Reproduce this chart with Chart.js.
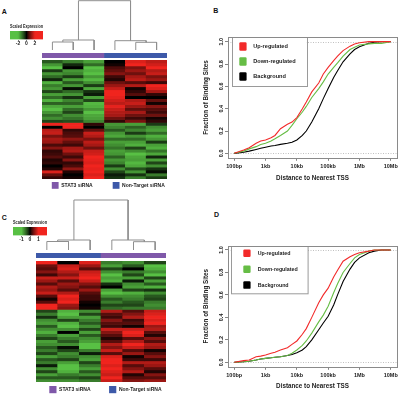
<!DOCTYPE html>
<html><head><meta charset="utf-8">
<script src="https://cdn.jsdelivr.net/npm/chart.js@4.4.1/dist/chart.umd.min.js"></script>
<style>
html,body{margin:0;padding:0;background:#fff;}
#wrap{position:relative;width:400px;height:397px;overflow:hidden;background:#fff;font-family:"Liberation Sans",Arial,sans-serif;}
canvas{position:absolute;}
.lbl{position:absolute;font-weight:bold;font-size:7px;line-height:7px;color:#111;}
</style></head><body>
<div id="wrap">
  <div class="lbl" style="left:1.7px;top:8.4px">A</div>
  <div class="lbl" style="left:213.3px;top:7.4px">B</div>
  <div class="lbl" style="left:1.7px;top:214.1px">C</div>
  <div class="lbl" style="left:214px;top:211.4px">D</div>
</div>
<script>
// ---------------- DATA ----------------
// Heatmap A (scaled expression, rows top->bottom), one array per sample column
const heatA_stat3_1 = [-0.8,-1.5,-2,-0.5,-1.5,-1,-0.3,-1.8,-1.2,-1.5,-0.6,-1.6,-1,-1.8,-0.9,-1.7,-2,-1.5,-1,-1.4,-0.6, 2,0,1.5,1.6,0.9,1.3,1.2,0.5,1.0,0.3,0.4,0.6,0.2,0.3,0,0.2,1.8,0.7,0.3];
const heatA_stat3_2 = [-1.2,-0.3,0,-1.5,-1.3,-0.5,-1.6,-0.8,-1.5,-0.1,-1,-1.5,-0.4,-1.3,-0.9,-1.6,-1,-0.6,-1.4,-1.1,-0.7, 2,2,0.3,0.5,0.6,1.1,0.7,0.4,1.3,1.4,0.8,0.4,1.0,0.3,0.5,1.1,0.2,0,0.1];
const heatA_stat3_3 = [-1.6,-1,-2,-1.8,-2,-1.5,-1.9,-1.4,-0.5,-1.7,-0.4,-0.2,-1.6,-0.6,-1.9,-1.8,-1.5,-2,-1.7,-1.6,-1.3, 0.3,0,0.7,1.6,1.4,0.9,1.5,1.3,0.8,1.6,1.7,2,1.9,1.8,2,1.9,2,1.8,2];
const heatA_ctrl_1  = [0,0.1,0.5,0.7,1,0.4,0.2,0.8,1.2,1.6,2,2,1.9,1.7,1.5,1.9,1.6,1.4,1.3,0.8,0.3, -1.5,-1.3,-0.8,-1.5,-1.7,-1,-1.6,-1.4,-1.1,-1.6,-1.5,-0.9,-1.5,-1.3,-0.5,-1.4,-0.6,-0.2,-0.4];
const heatA_ctrl_2  = [1.8,2,0.9,1.2,0.8,1.3,1.5,0.6,1.4,0.1,0.3,0.6,0,1.4,1.6,1.2,0.7,1.3,0.8,0.4,0.9, -1.6,-0.9,-1.3,-0.5,-1.5,-1,-1.6,-1.8,-0.6,-1.4,-2,-1.7,-1.6,-1.9,-1.7,-0.7,-1.5,-0.4,-1.2];
const heatA_ctrl_3  = [1.5,1.7,2,1.4,1.6,0.9,1.2,0.4,2,1.8,1.3,0.3,0,0.7,0.1,1,0.6,0.4,0.8,0.1,0.3, -0.5,-1.4,-1.6,-1,-1.8,-1.5,-0.5,-1.6,-1.8,-1.1,-1.7,-0.3,-1.6,-0.6,-1.4,-0.4,-0.1,-1.2,-0.5];
// Heatmap C
const heatC_col1 = [1,0.4,0.3,0.5,0.2,0.8,0.6,0.3,0.7,0.6,0.8,0.3,0.05,0.3,1,1, -0.3,-0.6,-0.2,-0.7,-0.8,-0.4,-0.7,-0.9,-0.6,-0.3,-0.8,-0.7,-0.4,-0.6,-0.3,-0.8,-0.4,-0.6,-0.1,-0.7,-0.3,-0.8,-0.4,-0.7];
const heatC_col2 = [0,0.8,0.9,0.7,0.5,0.8,0.3,0.6,0.5,0.3,0.7,1,0.9,1,0.6,0.5, -0.9,-1,-0.8,-0.3,-0.9,-1,-0.7,0,-0.8,-0.6,-0.4,-0.7,-0.05,-0.3,-0.7,-0.6,-0.3,-0.8,-1,-1,-0.9,-0.6,-0.4,-0.7];
const heatC_col3 = [0.9,0.6,0.3,0.8,0.9,1,0.8,0.5,0.3,0.6,0.3,0.2,0.2,0.05,0,0.05, -0.7,-0.3,-0.8,-0.6,-0.4,-0.7,-0.3,-0.8,-0.4,-0.7,-0.8,-1,-1,-0.6,-0.1,-0.7,-0.8,-0.3,-0.6,-0.8,-0.4,-0.7,-0.3,-0.6];
const heatC_col4 = [-0.6,-0.8,-0.3,-0.7,-1,-0.8,-0.9,-0.2,0,-0.8,-1,-0.7,-0.4,-0.6,-0.3,-0.5, 0.7,0.3,0.2,0.5,0.3,0.2,0.8,0.5,0.3,0.1,0.3,0.7,0.5,0.8,0.3,0.9,1,1,0.9,1,0.9,0.8,1,0.8];
const heatC_col5 = [-0.7,-0.4,0,-0.6,-0.3,-0.8,-0.1,-0.7,-0.8,-0.3,-0.9,-0.7,-0.6,-0.4,-0.3,-0.6, 0.3,0.5,0.7,0.2,0.3,0.05,0.8,1,0.9,0.3,0.7,1,0.8,0.3,0.6,0.05,0.2,0.7,0.3,0.5,0.7,0.1,0.3,0.5];
const heatC_col6 = [-0.3,-1,-0.9,-0.7,-1,-0.3,-0.8,-0.4,-0.9,-0.2,-0.7,-0.4,-0.3,-0.6,-0.7,-0.6, 0.8,0.9,1,0.9,1,0.6,0.7,0.3,0.1,0.5,0.3,0.7,0.6,0.05,0.3,0.5,0.2,0.7,0.6,0.3,0.1,0.5,0.3,0.6];

// Dendrograms (R hclust style merges: negative = leaf, positive = earlier merge; third = height)
const dendroA = [[-1,-2,8],[1,-3,10],[-5,-6,7.7],[-4,3,9.3],[2,4,49.3]];
const dendroC = [[-1,-2,8.5],[1,-3,10],[-5,-6,8.3],[-4,3,10],[2,4,50]];

// Sample group bars
const groupNames = ['STAT3 siRNA','Non-Target siRNA'];
const groupColors = ['#7f58a9','#3d59a9'];
const groupsA = ['STAT3 siRNA','Non-Target siRNA'];
const groupsC = ['Non-Target siRNA','STAT3 siRNA'];

// Color keys
const keyTicksA = [-2,0,2];
const keyTicksC = [-1,0,1];

// CDF curves: distance to nearest TSS (bp) and fraction of binding sites
const distances = [100,200,300,500,700,1000,1500,2000,3000,5000,7000,10000,15000,20000,30000,50000,70000,100000,150000,200000,300000,500000,700000,1000000,2000000,3000000,5000000,10000000];
const upB   = [0,0.03,0.05,0.09,0.11,0.12,0.14,0.16,0.22,0.26,0.28,0.32,0.40,0.46,0.55,0.63,0.71,0.77,0.83,0.87,0.92,0.96,0.98,0.99,1,1,1,1];
const downB = [0,0.02,0.04,0.06,0.08,0.09,0.11,0.13,0.16,0.20,0.25,0.31,0.37,0.42,0.50,0.58,0.64,0.71,0.77,0.81,0.87,0.93,0.95,0.97,0.98,0.985,0.985,1];
const bgB   = [0,0.01,0.02,0.035,0.045,0.055,0.065,0.07,0.08,0.09,0.10,0.12,0.16,0.20,0.28,0.40,0.49,0.58,0.68,0.74,0.82,0.89,0.93,0.955,0.985,0.995,1,1];
const upD   = [0,0.015,0.02,0.05,0.055,0.065,0.08,0.09,0.11,0.13,0.16,0.19,0.25,0.30,0.40,0.53,0.60,0.66,0.76,0.82,0.90,0.94,0.96,0.975,0.99,1,1,1];
const downD = [0,0.005,0.01,0.02,0.03,0.035,0.04,0.045,0.05,0.06,0.08,0.11,0.15,0.19,0.26,0.36,0.42,0.50,0.62,0.70,0.80,0.88,0.93,0.96,0.99,1,1,1];
const bgD   = [0,0.005,0.01,0.02,0.03,0.035,0.04,0.045,0.05,0.06,0.07,0.085,0.11,0.14,0.20,0.29,0.35,0.41,0.51,0.60,0.72,0.83,0.89,0.93,0.975,0.99,1,1];
const seriesLabels = ['Up-regulated','Down-regulated','Background'];
const seriesColors = ['#f22a2a','#66bd45','#000000'];
const xTickValues = [100,1000,10000,100000,1000000,10000000];
const xTickLabels = ['100bp','1kb','10kb','100kb','1Mb','10Mb'];
const yTickValues = [0,0.2,0.4,0.6,0.8,1.0];

// ---------------- SETUP ----------------
const FONT = '"Liberation Sans", Arial, sans-serif';
Chart.defaults.font.family = FONT;
Chart.defaults.font.weight = 'bold';
Chart.defaults.color = '#222';
const wrap = document.getElementById('wrap');
function mk(left, top, w, h){
  const c = document.createElement('canvas');
  c.width = w; c.height = h;
  c.style.left = left + 'px'; c.style.top = top + 'px';
  c.style.width = w + 'px'; c.style.height = h + 'px';
  wrap.appendChild(c); return c;
}
const base = {responsive:false, animation:false, devicePixelRatio:1, events:[],
  plugins:{legend:{display:false}, tooltip:{enabled:false}, title:{display:false}}};

function heatColor(v, sat){
  const t = Math.pow(Math.min(Math.abs(v)/sat, 1), 0.85);
  if (v < 0) return `rgb(${Math.round(88*t)},${Math.round(192*t)},${Math.round(68*t)})`;
  return `rgb(${Math.round(240*t)},${Math.round(36*t)},${Math.round(30*t)})`;
}

// group legend below heatmap
const groupLegendPlugin = {
  id:'groupLegend',
  afterDraw(chart, args, o){
    if (!o || !o.show) return;
    const {ctx, chartArea} = chart;
    ctx.save();
    ctx.font = `bold ${o.fontSize}px ${FONT}`;
    ctx.textBaseline = 'middle';
    let x = chartArea.left + o.offsetX;
    const y = chartArea.bottom + o.offsetY;
    groupNames.forEach((name, i) => {
      ctx.fillStyle = groupColors[i];
      ctx.fillRect(x, y, o.box, o.box);
      x += o.box + o.textGap;
      ctx.fillStyle = '#222';
      ctx.fillText(name, x, y + o.box/2 + 0.3);
      x += ctx.measureText(name).width + o.itemGap;
    });
    ctx.restore();
  }
};

function heatmap(canvas, columns, sat, padding, legendOpts){
  const nRows = columns[0].length;
  const datasets = [];
  for (let r = 0; r < nRows; r++){
    datasets.push({data: columns.map(() => 1),
      backgroundColor: columns.map(col => heatColor(col[r], sat)),
      borderWidth:0, barPercentage:1, categoryPercentage:1});
  }
  new Chart(canvas, {
    type:'bar',
    data:{labels: columns.map((c,i) => 'S' + (i+1)), datasets},
    options:Object.assign({}, base, {
      layout:{padding},
      scales:{x:{display:false, stacked:true}, y:{display:false, stacked:true, min:0, max:nRows, reverse:true}},
      plugins:Object.assign({}, base.plugins, {groupLegend: legendOpts})
    }),
    plugins:[groupLegendPlugin]
  });
}

function dendroSegments(merge){
  const pos = [], hts = [], segs = [];
  merge.forEach(([a,b,h], i) => {
    const xa = a < 0 ? -a-1 : pos[a-1], ha = a < 0 ? 0 : hts[a-1];
    const xb = b < 0 ? -b-1 : pos[b-1], hb = b < 0 ? 0 : hts[b-1];
    segs.push([{x:xa,y:ha},{x:xa,y:h},{x:xb,y:h},{x:xb,y:hb}]);
    pos[i] = (xa+xb)/2; hts[i] = h;
  });
  return segs;
}
function dendro(canvas, merge, ymax){
  new Chart(canvas, {
    type:'scatter',
    data:{datasets: dendroSegments(merge).map(s => ({data:s, showLine:true, pointRadius:0,
      borderColor:'#8f8f8f', borderWidth:1, clip:false, tension:0}))},
    options:Object.assign({}, base, {
      scales:{x:{type:'linear', display:false, min:-0.5, max:5.5}, y:{display:false, min:0, max:ymax}}
    })
  });
}
function groupBar(canvas, groups){
  new Chart(canvas, {
    type:'bar',
    data:{labels:groups, datasets:[{data: groups.map(() => 1),
      backgroundColor: groups.map(g => groupColors[groupNames.indexOf(g)]),
      borderWidth:0, barPercentage:1, categoryPercentage:1}]},
    options:Object.assign({}, base, {scales:{x:{display:false}, y:{display:false, min:0, max:1}}})
  });
}
function keyChart(canvas, min, max, ticks, sat, padL, padR){
  new Chart(canvas, {
    type:'bar',
    data:{labels:['key'], datasets:[{data:[[min,max]], borderWidth:0, barPercentage:1, categoryPercentage:1,
      backgroundColor:(c) => {
        const ch = c.chart; if (!ch.chartArea) return '#000';
        const xs = ch.scales.x;
        const g = ch.ctx.createLinearGradient(xs.getPixelForValue(min), 0, xs.getPixelForValue(max), 0);
        for (let k = 0; k <= 24; k++){ const v = min + (max-min)*k/24; g.addColorStop(k/24, heatColor(v, sat)); }
        return g;
      }}]},
    options:Object.assign({}, base, {
      indexAxis:'y',
      layout:{padding:{left:padL, right:padR, top:0, bottom:0}},
      scales:{
        x:{type:'linear', min, max, afterBuildTicks:s => { s.ticks = ticks.map(v => ({value:v})); },
          grid:{drawOnChartArea:false, tickLength:1.5, tickColor:'#444', tickWidth:0.7}, border:{display:false},
          ticks:{padding:0, font:{size:5, weight:'bold'}, maxRotation:0, autoSkip:false, color:'#222'}},
        y:{display:false}
      },
      plugins:Object.assign({}, base.plugins, {title:{display:true, text:'Scaled Expression',
        font:{size:5, weight:'bold'}, padding:{top:2, bottom:1}, color:'#222'}})
    })
  });
}

// CDF plots
const framePlugin = {
  id:'frame',
  beforeDatasetsDraw(chart){
    const {ctx, chartArea:a, scales} = chart;
    ctx.save();
    ctx.strokeStyle = '#b0b0b0'; ctx.lineWidth = 0.8; ctx.setLineDash([1,1.5]);
    [0,1].forEach(v => { const y = Math.round(scales.y.getPixelForValue(v)) + 0.5;
      ctx.beginPath(); ctx.moveTo(a.left, y); ctx.lineTo(a.right, y); ctx.stroke(); });
    ctx.restore();
  },
  afterDraw(chart){
    const {ctx, chartArea:a} = chart;
    ctx.save(); ctx.strokeStyle = '#8a8a8a'; ctx.lineWidth = 1;
    ctx.strokeRect(Math.round(a.left)+0.5, Math.round(a.top)+0.5, Math.round(a.right-a.left), Math.round(a.bottom-a.top));
    ctx.restore();
  }
};
const boxLegendPlugin = {
  id:'boxLegend',
  afterDatasetsDraw(chart, args, o){
    const {ctx, chartArea:a} = chart;
    const x0 = a.left + o.x, y0 = a.top + o.y;
    ctx.save();
    ctx.fillStyle = '#fff'; ctx.fillRect(x0, y0, o.w, o.h);
    ctx.strokeStyle = '#9a9a9a'; ctx.lineWidth = 1; ctx.strokeRect(Math.round(x0)+0.5, Math.round(y0)+0.5, o.w, o.h);
    ctx.font = `bold ${o.fontSize}px ${FONT}`; ctx.textBaseline = 'middle';
    chart.data.datasets.forEach((ds, i) => {
      const cy = y0 + o.firstY + i*o.step;
      ctx.fillStyle = ds.borderColor;
      ctx.beginPath();
      if (ctx.roundRect) ctx.roundRect(x0 + o.boxX, cy - o.bh/2, o.bw, o.bh, 1.2); else ctx.rect(x0 + o.boxX, cy - o.bh/2, o.bw, o.bh);
      ctx.fill();
      ctx.fillStyle = '#222'; ctx.fillText(ds.label, x0 + o.textX, cy + 0.3);
    });
    ctx.restore();
  }
};
function cdfChart(canvas, series, lay, legendOpts){
  new Chart(canvas, {
    type:'scatter',
    data:{datasets: series.map((vals, k) => ({label: seriesLabels[k],
      data: distances.map((d, i) => ({x:d, y:vals[i]})),
      borderColor: seriesColors[k], backgroundColor: seriesColors[k],
      showLine:true, pointRadius:0, borderWidth:1.1, tension:0}))},
    options:Object.assign({}, base, {
      layout:{padding:{top:lay.top, right:3, left:0, bottom:0}},
      scales:{
        x:{type:'logarithmic', min:63.0957, max:15848932,
          afterBuildTicks:s => { s.ticks = xTickValues.map(v => ({value:v})); },
          afterFit:s => { s.height = lay.xh; },
          ticks:{autoSkip:false, maxRotation:0, minRotation:0, padding:2, font:{size:5.5, weight:'bold'}, color:'#222',
            callback:(v, i) => xTickLabels[i]},
          grid:{drawOnChartArea:false, tickLength:3, tickColor:'#666', tickWidth:0.8}, border:{display:false},
          title:{display:true, text:'Distance to Nearest TSS', font:{size:6.3, weight:'bold'}, color:'#222',
            padding:{top:0, bottom:lay.titlePad}}},
        y:{min:-0.04, max:1.04,
          afterBuildTicks:s => { s.ticks = yTickValues.map(v => ({value:v})); },
          afterFit:s => { s.width = 28; },
          ticks:{minRotation:90, maxRotation:90, crossAlign:'center', padding:0, font:{size:5.5, weight:'bold'}, color:'#222',
            callback:v => Number(v).toFixed(1)},
          grid:{drawOnChartArea:false, tickLength:3, tickColor:'#666', tickWidth:0.8}, border:{display:false},
          title:{display:true, text:'Fraction of Binding Sites', font:{size:6.3, weight:'bold'}, color:'#222',
            padding:{top:2.9, bottom:0}}}
      },
      plugins:Object.assign({}, base.plugins, {boxLegend: legendOpts})
    }),
    plugins:[framePlugin, boxLegendPlugin]
  });
}

// ---------------- BUILD ----------------
// Panel A
keyChart(mk(0, 22, 60, 25), -3.9, 3.9, keyTicksA, 2, 10, 17);
dendro(mk(42, 0, 125, 50), dendroA, 50);
groupBar(mk(42, 53, 125, 5), groupsA);
heatmap(mk(0, 60, 200, 135), [heatA_stat3_1, heatA_stat3_2, heatA_stat3_3, heatA_ctrl_1, heatA_ctrl_2, heatA_ctrl_3], 2,
  {left:42, right:33, top:0, bottom:16},
  {show:true, fontSize:5, box:6.8, textGap:2.6, itemGap:20, offsetX:9.8, offsetY:3});

// Panel C
keyChart(mk(0, 218, 60, 25), -2, 2, keyTicksC, 1, 13, 13);
dendro(mk(36, 199, 130, 51), dendroC, 51);
groupBar(mk(36, 253, 130, 5), groupsC);
heatmap(mk(0, 261, 200, 135), [heatC_col1, heatC_col2, heatC_col3, heatC_col4, heatC_col5, heatC_col6], 1,
  {left:36, right:34, top:0, bottom:14},
  {show:true, fontSize:5, box:7.2, textGap:2.6, itemGap:18.5, offsetX:13.3, offsetY:4});

// Panel B
cdfChart(mk(200, 0, 200, 198), [upB, downB, bgB], {top:37.2, xh:40.2, titlePad:15.9},
  {x:3.7, y:0, w:75, h:49, firstY:9.3, step:15, boxX:7.6, bw:7.3, bh:8.3, textX:21.6, fontSize:5.6});
// Panel D
cdfChart(mk(200, 200, 200, 197), [upD, downD, bgD], {top:45.5, xh:30.2, titlePad:6.5},
  {x:2.7, y:0.5, w:76.6, h:47.3, firstY:7.3, step:15.9, boxX:12.6, bw:7.3, bh:7.5, textX:27, fontSize:5.3});
</script>
</body></html>
